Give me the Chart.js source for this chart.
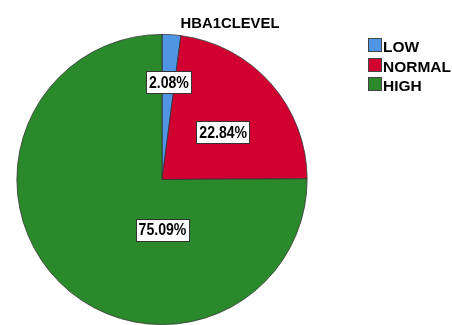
<!DOCTYPE html>
<html>
<head>
<meta charset="utf-8">
<script src="https://cdn.jsdelivr.net/npm/chart.js@4"></script>
<style>
  html, body { margin: 0; padding: 0; background: #fff; }
  #wrap { position: relative; width: 452px; height: 325px; }
</style>
</head>
<body>
<div id="wrap"><canvas id="pie" width="452" height="325"></canvas></div>
<script>
const chartTitle = 'HBA1CLEVEL';
const categories = ['LOW', 'NORMAL', 'HIGH'];
const percents = [2.08, 22.84, 75.09];
const sliceColors = ['#4f95e4', '#d10030', '#2a892a'];

// SPSS puts the value boxes in odd places; radial factor + nudge per slice
const labelPlace = [
  { f: 0.67, dx: 0, dy: 0 },
  { f: 0.53, dx: 3, dy: 3 },
  { f: 0, dx: 0, dy: 50 }
];

const FONT = 'Arial, "Liberation Sans", sans-serif';

// SPSS export squeezes/stretches glyphs a bit
function scaledText(ctx, txt, x, y, sx) {
  ctx.save();
  ctx.translate(x, y);
  ctx.scale(sx, 1);
  ctx.fillText(txt, 0, 0);
  ctx.restore();
}

const decorations = {
  id: 'decorations',
  afterDraw(chart) {
    const ctx = chart.ctx;
    const meta = chart.getDatasetMeta(0);
    ctx.save();

    // value labels
    const sx = 0.88;
    ctx.font = 'bold 16px ' + FONT;
    ctx.textAlign = 'center';
    ctx.textBaseline = 'middle';
    meta.data.forEach((arc, i) => {
      const p = arc.getProps(['x', 'y', 'startAngle', 'endAngle', 'outerRadius'], true);
      const mid = (p.startAngle + p.endAngle) / 2;
      const r = p.outerRadius * labelPlace[i].f;
      const x = p.x + Math.cos(mid) * r + labelPlace[i].dx;
      const y = p.y + Math.sin(mid) * r + labelPlace[i].dy;
      const txt = percents[i].toFixed(2) + '%';
      const w = Math.round(ctx.measureText(txt).width * sx + 5);
      const h = 22;
      const bx = Math.round(x - w / 2), by = Math.round(y - h / 2);
      ctx.fillStyle = '#fff';
      ctx.fillRect(bx, by, w, h);
      ctx.strokeStyle = '#333';
      ctx.lineWidth = 1;
      ctx.strokeRect(bx + 0.5, by + 0.5, w, h);
      ctx.fillStyle = '#000';
      scaledText(ctx, txt, x + 0.5, y + 1.5, sx);
    });

    // title
    ctx.font = 'bold 14px ' + FONT;
    ctx.textBaseline = 'alphabetic';
    scaledText(ctx, chartTitle, 230, 28, 1.06);

    // legend
    ctx.textAlign = 'left';
    ctx.font = 'bold 15.5px ' + FONT;
    categories.forEach((c, i) => {
      const y = Math.round(38 + i * 19.5);
      ctx.fillStyle = sliceColors[i];
      ctx.fillRect(368, y, 13, 13);
      ctx.strokeStyle = '#444';
      ctx.strokeRect(368.5, y + 0.5, 13, 13);
      ctx.fillStyle = '#000';
      ctx.fillText(c, 383, y + 13.5);
    });
    ctx.restore();
  }
};

new Chart(document.getElementById('pie'), {
  type: 'pie',
  data: {
    labels: categories,
    datasets: [{
      data: percents,
      backgroundColor: sliceColors,
      borderColor: '#333',
      borderWidth: 0.8
    }]
  },
  options: {
    responsive: false,
    animation: false,
    layout: { padding: { left: 16, top: 34, right: 144, bottom: 0 } },
    plugins: {
      legend: { display: false },
      title: { display: false },
      tooltip: { enabled: false }
    }
  },
  plugins: [decorations]
});
</script>
</body>
</html>
